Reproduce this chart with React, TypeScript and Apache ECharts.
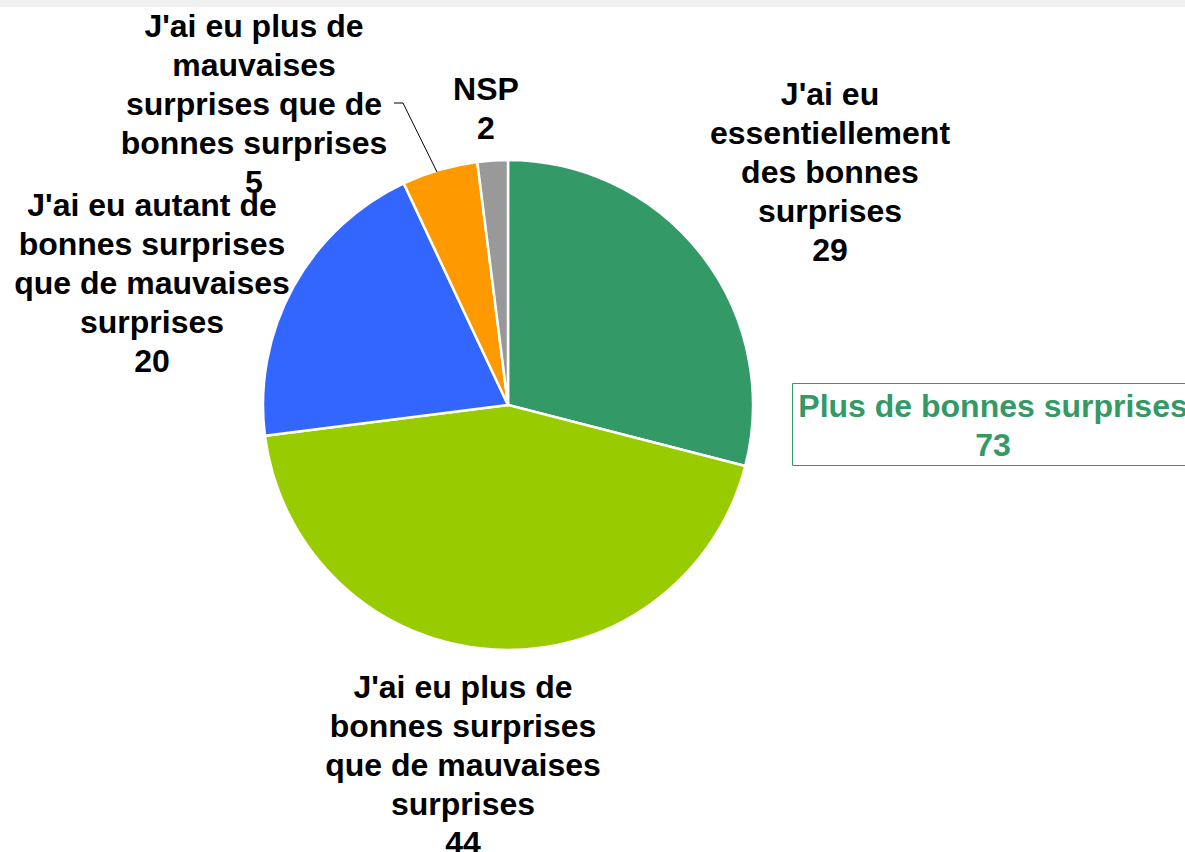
import React, { useEffect, useRef } from "react";
import * as echarts from "echarts";

const categories = [
  "J'ai eu\nessentiellement\ndes bonnes\nsurprises",
  "J'ai eu plus de\nbonnes surprises\nque de mauvaises\nsurprises",
  "J'ai eu autant de\nbonnes surprises\nque de mauvaises\nsurprises",
  "J'ai eu plus de\nmauvaises\nsurprises que de\nbonnes surprises",
  "NSP",
];
const values = [29, 44, 20, 5, 2];
const colors = ["#339966", "#99CC00", "#3366FF", "#FF9900", "#999999"];
const summaryLabel = "Plus de bonnes surprises";
const summaryValue = 73;

// label centre positions (layout only)
const labelPos = [
  [830, 172],
  [463, 765],
  [152, 283],
  [254, 104],
  [486, 108],
];

export default function App() {
  const ref = useRef<HTMLDivElement>(null);
  useEffect(() => {
    document.body.style.margin = "0";
    const chart = echarts.init(ref.current!, null, { renderer: "svg" });
    const font = "'Liberation Sans', Arial, sans-serif";
    chart.setOption({
      animation: false,
      backgroundColor: "#ffffff",
      graphic: [
        { type: "rect", shape: { x: 0, y: 0, width: 1185, height: 7 }, style: { fill: "#f0f0f0" }, silent: true },
        {
          type: "polyline",
          shape: { points: [[394, 103], [403, 103], [437, 172]] },
          style: { stroke: "#000", lineWidth: 1, fill: "none" },
          z: 10,
        },
        {
          type: "rect",
          shape: { x: 792.5, y: 383.5, width: 420, height: 82 },
          style: { fill: "#fff", stroke: "#339966", lineWidth: 1 },
          z: 5,
        },
        {
          type: "text",
          x: 993,
          y: 425,
          z: 6,
          style: {
            text: summaryLabel + "\n" + summaryValue,
            fill: "#339966",
            font: `bold 32px ${font}`,
            fontFamily: font,
            fontWeight: "bold",
            fontSize: 32,
            lineHeight: 39,
            align: "center",
            verticalAlign: "middle",
          },
        },
      ],
      series: [
        {
          type: "pie",
          center: [508, 405],
          radius: 245,
          startAngle: 90,
          clockwise: true,
          itemStyle: { borderColor: "#fff", borderWidth: 2.5 },
          label: {
            show: true,
            position: "outside",
            formatter: (p: any) => `${p.name}\n${p.value}`,
            color: "#000",
            fontFamily: font,
            fontWeight: "bold",
            fontSize: 32,
            lineHeight: 39,
            align: "center",
            overflow: "none",
            width: 400,
          },
          labelLine: { show: false },
          labelLayout: (p: any) => ({
            x: labelPos[p.dataIndex][0],
            y: labelPos[p.dataIndex][1],
            align: "center",
            verticalAlign: "middle",
          }),
          data: categories.map((c, i) => ({
            name: c,
            value: values[i],
            itemStyle: { color: colors[i] },
          })),
        },
      ],
    });
    return () => chart.dispose();
  }, []);
  return <div ref={ref} style={{ width: 1185, height: 852 }} />;
}
